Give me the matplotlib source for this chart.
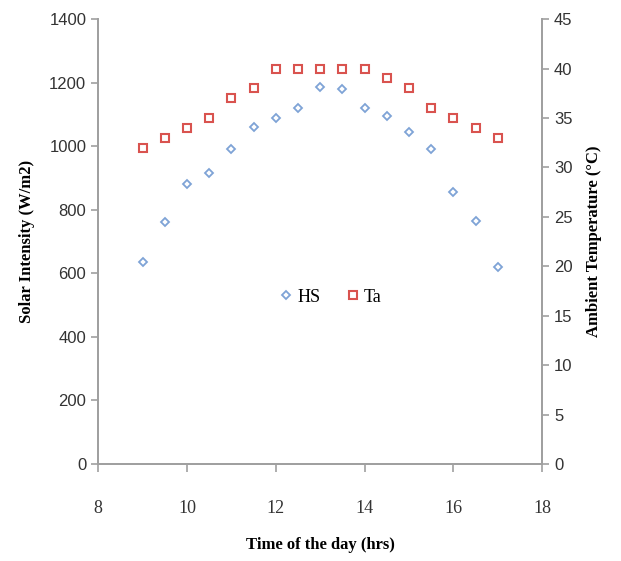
import matplotlib.pyplot as plt

# hourly readings, 9:00 to 17:00 every half hour
hours = [9, 9.5, 10, 10.5, 11, 11.5, 12, 12.5, 13, 13.5, 14, 14.5, 15, 15.5, 16, 16.5, 17]
hs = [635, 760, 880, 915, 990, 1060, 1090, 1120, 1185, 1180, 1120, 1095, 1045, 990, 855, 765, 620]
ta = [32, 33, 34, 35, 37, 38, 40, 40, 40, 40, 40, 39, 38, 36, 35, 34, 33]

x_ticks = [8, 10, 12, 14, 16, 18]
left_ticks = [0, 200, 400, 600, 800, 1000, 1200, 1400]
right_ticks = [0, 5, 10, 15, 20, 25, 30, 35, 40, 45]

grey = '#a0a0a0'
serif = 'Liberation Serif'
sans = 'Liberation Sans'

fig = plt.figure(figsize=(6.21, 5.61), dpi=100)
ax = fig.add_axes([0.158, 0.173, 0.715, 0.793])
ax2 = ax.twinx()

h1, = ax.plot(hours, hs, linestyle='none', marker='D', markersize=4.5,
              markerfacecolor='none', markeredgecolor='#7ea3d6', markeredgewidth=1.3, label='HS')
h2, = ax2.plot(hours, ta, linestyle='none', marker='s', markersize=6,
               markerfacecolor='none', markeredgecolor='#d9534f', markeredgewidth=1.5, label='Ta')

ax.set_xlim(8, 18)
ax.set_ylim(0, 1400)
ax2.set_ylim(0, 45)
ax.set_xticks(x_ticks)
ax.set_yticks(left_ticks)
ax2.set_yticks(right_ticks)

for a in (ax, ax2):
    a.spines['top'].set_visible(False)
    for s in a.spines.values():
        s.set_color(grey)
        s.set_linewidth(1.3)
    a.tick_params(colors=grey, width=1.2, length=5, labelcolor='#333333')

ax.tick_params(axis='x', direction='out', length=6, pad=20)
ax.tick_params(axis='y', direction='out', labelsize=12)
ax2.tick_params(axis='y', direction='out', labelsize=12)
for lbl in ax.get_xticklabels():
    lbl.set_fontfamily(serif)
    lbl.set_fontsize(13)
for lbl in ax.get_yticklabels() + ax2.get_yticklabels():
    lbl.set_fontfamily(sans)

ax.set_xlabel('Time of the day (hrs)', fontfamily=serif, fontweight='bold', fontsize=12, labelpad=14)
ax.set_ylabel('Solar Intensity (W/m2)', fontfamily=serif, fontweight='bold', fontsize=12, labelpad=10)
ax2.set_ylabel('Ambient Temperature (°C)', fontfamily=serif, fontweight='bold', fontsize=12, labelpad=10)

ax.legend(handles=[h1, h2], loc='center', bbox_to_anchor=(0.525, 0.375), ncol=2, frameon=False,
          prop={'family': serif, 'size': 13}, handlelength=0.6, handletextpad=0.3, columnspacing=1.5)

fig.savefig('out.png', dpi=100)
